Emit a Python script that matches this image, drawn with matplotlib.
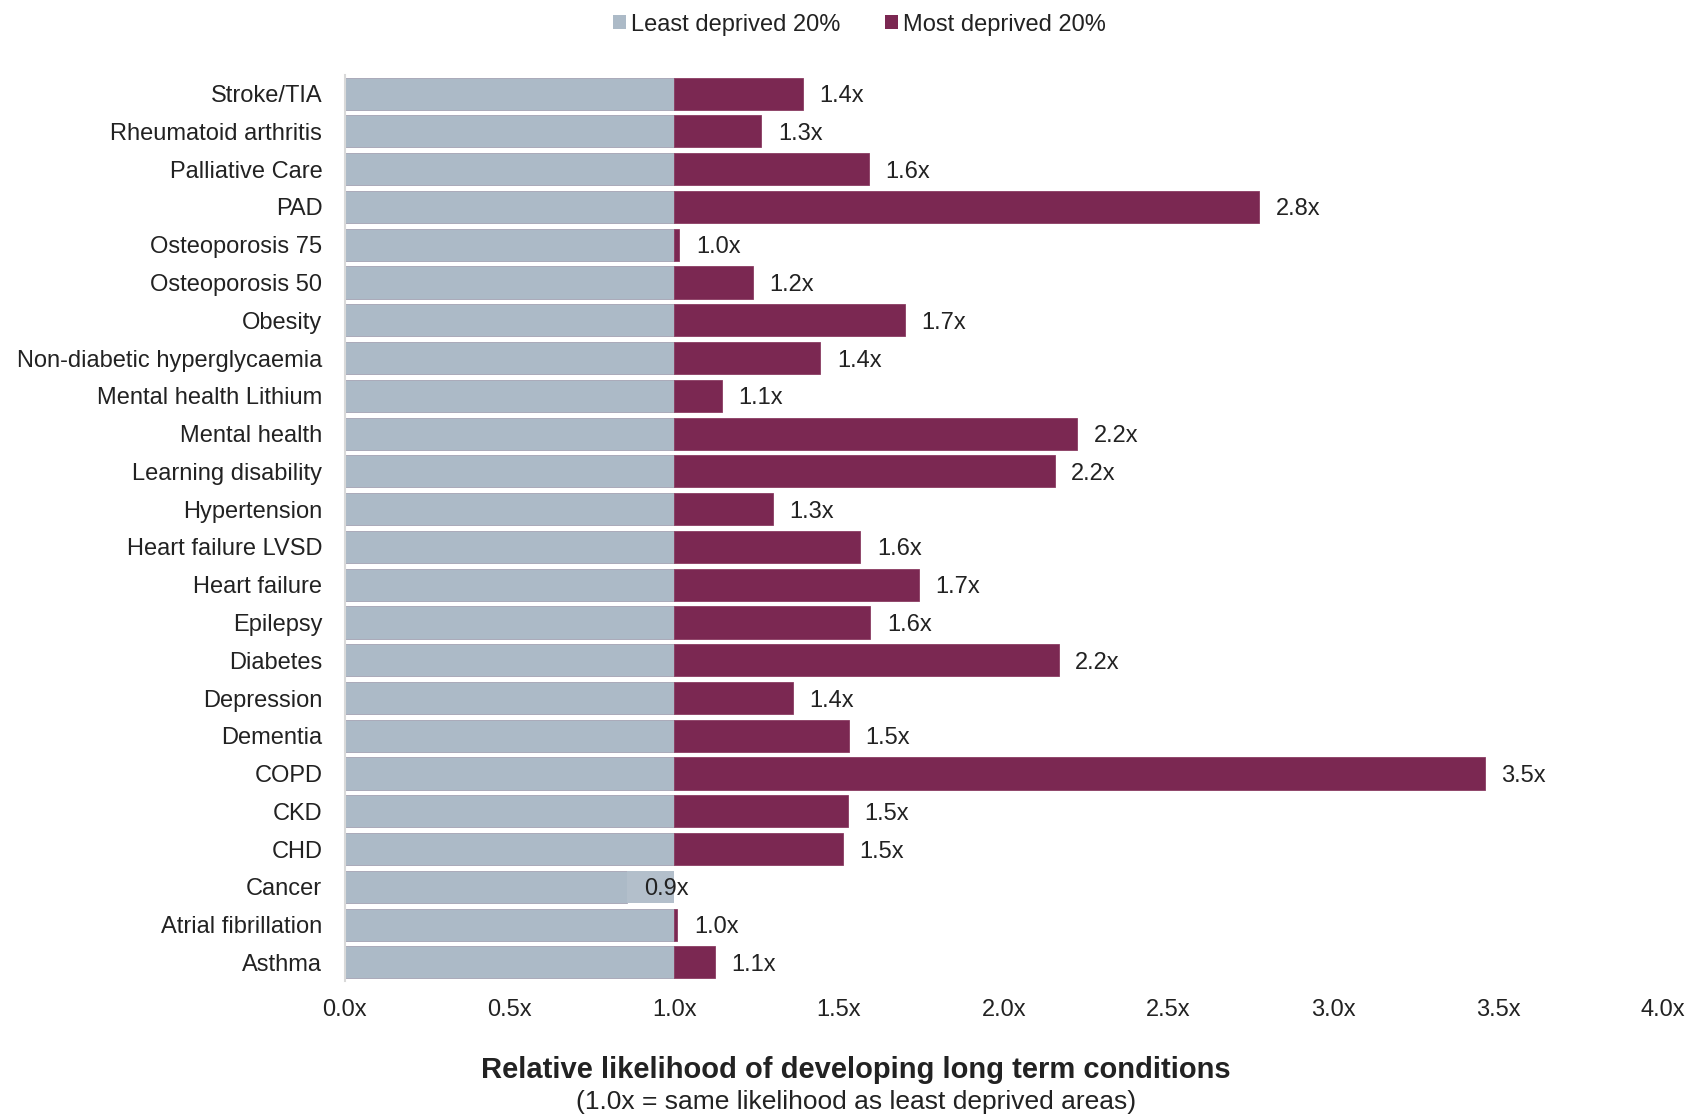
import matplotlib
matplotlib.use("Agg")
import matplotlib.pyplot as plt
from matplotlib.patches import Patch

plt.rcParams['font.family'] = ['Liberation Sans', 'DejaVu Sans']

# Conditions, top to bottom as listed on the chart
conditions = [
    "Stroke/TIA", "Rheumatoid arthritis", "Palliative Care", "PAD",
    "Osteoporosis 75", "Osteoporosis 50", "Obesity",
    "Non-diabetic hyperglycaemia", "Mental health Lithium", "Mental health",
    "Learning disability", "Hypertension", "Heart failure LVSD",
    "Heart failure", "Epilepsy", "Diabetes", "Depression", "Dementia",
    "COPD", "CKD", "CHD", "Cancer", "Atrial fibrillation", "Asthma",
]

# Relative likelihood for the most deprived 20% (least deprived = 1.0x)
most_deprived = [
    1.39, 1.265, 1.59, 2.775,
    1.016, 1.24, 1.70,
    1.444, 1.144, 2.222,
    2.154, 1.30, 1.565,
    1.742, 1.595, 2.167, 1.36, 1.53,
    3.46, 1.526, 1.513, 0.858, 1.01, 1.124,
]
least_deprived = [1.0] * len(conditions)

x_ticks = [0.0, 0.5, 1.0, 1.5, 2.0, 2.5, 3.0, 3.5, 4.0]

GREY = "#acbac7"
GREY_LIGHT = "#b3bfcb"
PURPLE = "#7b2852"
TEXT = "#222222"
FS = 17

fig = plt.figure(figsize=(16.88, 11.16), dpi=100)
ax = fig.add_axes([0.2041, 0.1207, 0.7811, 0.8123])

n = len(conditions)
ypos = [n - 1 - i for i in range(n)]
h = 0.85

for y, base, val in zip(ypos, least_deprived, most_deprived):
    if val >= base:
        ax.barh(y, base, height=h, left=0, color=GREY, edgecolor="#a3a2b3", linewidth=0.6)
        ax.barh(y, val - base, height=h, left=base, color=PURPLE, edgecolor="#8a3c62", linewidth=0.6)
    else:
        ax.barh(y, val, height=h, left=0, color=GREY, edgecolor="#a3a2b3", linewidth=0.6)
        ax.barh(y, base - val, height=h, left=val, color=GREY_LIGHT, edgecolor="none")
    ax.text(val + 0.05, y, f"{val:.1f}x", va="center_baseline", ha="left",
            fontsize=FS, color=TEXT)

ax.set_xlim(0, 4.0)
ax.set_ylim(-0.5, n - 0.5)
ax.set_yticks(ypos)
ax.set_yticklabels(conditions, fontsize=FS, color=TEXT)
ax.set_xticks(x_ticks)
ax.set_xticklabels([f"{t:.1f}x" for t in x_ticks], fontsize=FS, color=TEXT)
ax.tick_params(axis="both", length=0)
ax.tick_params(axis="y", pad=16)
ax.tick_params(axis="x", pad=13)

for side in ["top", "right", "bottom"]:
    ax.spines[side].set_visible(False)
ax.spines["left"].set_color("#d9d9d9")
ax.spines["left"].set_linewidth(1.5)

# Legend
handles = [Patch(facecolor=GREY, edgecolor="none", label="Least deprived 20%"),
           Patch(facecolor=PURPLE, edgecolor="none", label="Most deprived 20%")]
fig.legend(handles=handles, loc="center", bbox_to_anchor=(0.509, 0.978),
           ncol=2, frameon=False, fontsize=FS, handlelength=0.55,
           handleheight=0.55, handletextpad=0.2, columnspacing=1.9,
           labelcolor=TEXT)

fig.text(0.507, 0.041, "Relative likelihood of developing long term conditions",
         ha="center", va="center", fontsize=21, fontweight="bold", color=TEXT)
fig.text(0.507, 0.0125, "(1.0x = same likelihood as least deprived areas)",
         ha="center", va="center", fontsize=19, color=TEXT)

fig.savefig("out.png", dpi=100)
